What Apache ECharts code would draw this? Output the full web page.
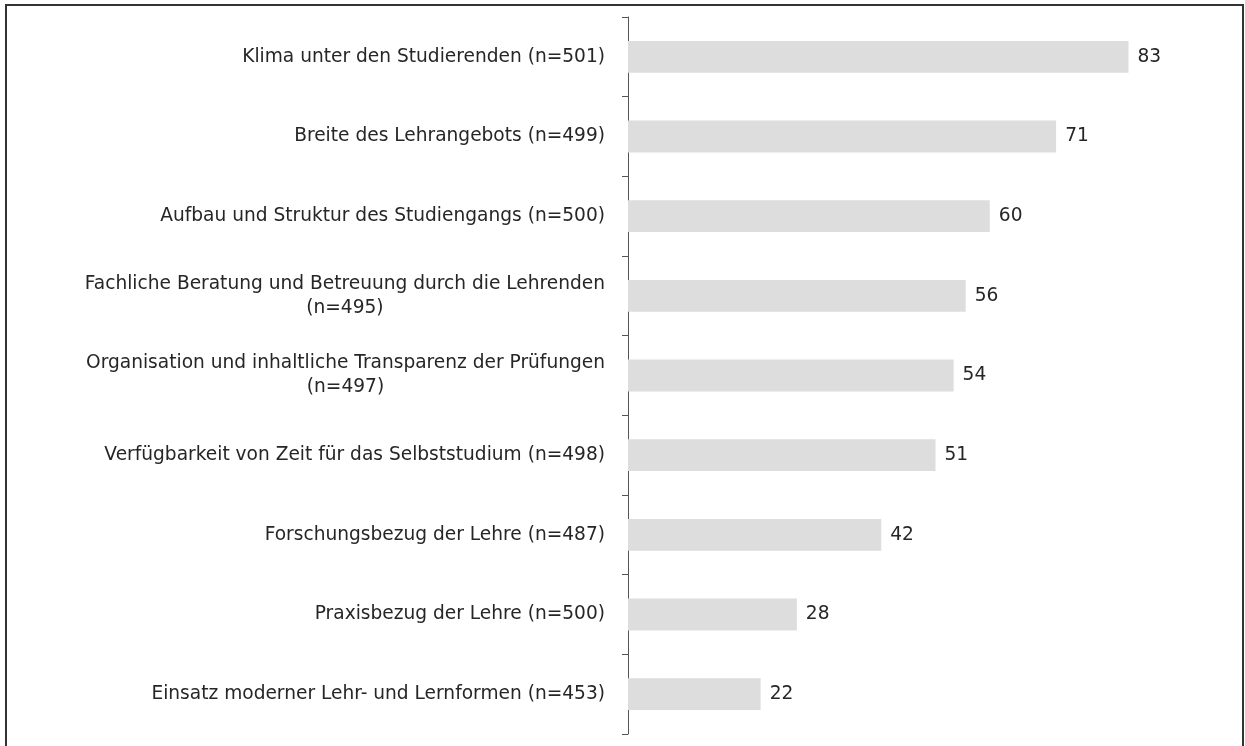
<!DOCTYPE html>
<html>
<head>
<meta charset="utf-8">
<script src="https://cdn.jsdelivr.net/npm/echarts@6/dist/echarts.min.js"></script>
<style>
html,body{margin:0;padding:0;background:#fff;}
#chart{width:1245px;height:746px;}
</style>
</head>
<body>
<div id="chart"></div>
<script>
const categories = [
  "Klima unter den Studierenden (n=501)",
  "Breite des Lehrangebots (n=499)",
  "Aufbau und Struktur des Studiengangs (n=500)",
  "Fachliche Beratung und Betreuung durch die Lehrenden\n(n=495)",
  "Organisation und inhaltliche Transparenz der Prüfungen\n(n=497)",
  "Verfügbarkeit von Zeit für das Selbststudium (n=498)",
  "Forschungsbezug der Lehre (n=487)",
  "Praxisbezug der Lehre (n=500)",
  "Einsatz moderner Lehr- und Lernformen (n=453)"
];
const values = [83, 71, 60, 56, 54, 51, 42, 28, 22];

const chart = echarts.init(document.getElementById('chart'), null, {renderer: 'canvas'});
const FONT = '"DejaVu Sans", Verdana, sans-serif';
const FS = 18.6;
chart.setOption({
  animation: false,
  backgroundColor: '#ffffff',
  graphic: [{
    type: 'rect',
    shape: {x: 6, y: 5, width: 1237, height: 800},
    style: {fill: 'none', stroke: '#333333', lineWidth: 2},
    silent: true
  }],
  grid: {left: 628, right: 14, top: 17, bottom: 12, containLabel: false},
  xAxis: {
    type: 'value', min: 0, max: 100, show: false
  },
  yAxis: {
    type: 'category',
    inverse: true,
    data: categories,
    axisLine: {show: true, lineStyle: {color: '#555555', width: 1}},
    axisTick: {show: true, length: 6, lineStyle: {color: '#555555'}},
    axisLabel: {
      margin: 23,
      color: '#262626',
      fontFamily: FONT,
      fontSize: FS,
      lineHeight: 24,
      formatter: function (v) {
        return v.split('\n').map(function (s) { return '{c|' + s + '}'; }).join('\n');
      },
      rich: {c: {align: 'center', fontFamily: FONT, fontSize: FS, lineHeight: 24, color: '#262626'}}
    },
    splitLine: {show: false}
  },
  series: [{
    type: 'bar',
    data: values,
    barWidth: '40%',
    itemStyle: {color: '#dddddd'},
    label: {
      show: true, position: 'right', distance: 9,
      color: '#262626', fontFamily: FONT, fontSize: FS
    }
  }]
});
</script>
</body>
</html>
